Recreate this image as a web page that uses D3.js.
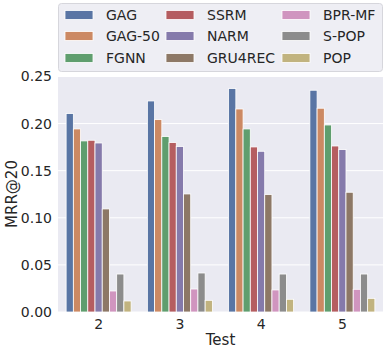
<!DOCTYPE html>
<html>
<head>
<meta charset="utf-8">
<script src="https://cdn.jsdelivr.net/npm/d3@7"></script>
<style>
  body { margin: 0; background: #fff; }
  text { font-family: "DejaVu Sans", sans-serif; fill: #262626; }
</style>
</head>
<body>
<div id="chart"></div>
<script>
const tests = ['2', '3', '4', '5'];
const methods = ['GAG', 'GAG-50', 'FGNN', 'SSRM', 'NARM', 'GRU4REC', 'BPR-MF', 'S-POP', 'POP'];
const colors = ['#5975a4', '#cc8963', '#5f9e6e', '#b55d60', '#857aab', '#8d7866', '#d095bf', '#8c8c8c', '#c1b37f'];

// MRR@20 per method, one entry per test
const GAG     = [0.2106, 0.2240, 0.2372, 0.2354];
const GAG50   = [0.1943, 0.2042, 0.2155, 0.2163];
const FGNN    = [0.1816, 0.1862, 0.1943, 0.1985];
const SSRM    = [0.1823, 0.1798, 0.1752, 0.1762];
const NARM    = [0.1794, 0.1756, 0.1706, 0.1724];
const GRU4REC = [0.1094, 0.1253, 0.1246, 0.1271];
const BPRMF   = [0.0223, 0.0244, 0.0234, 0.0241];
const SPOP    = [0.0403, 0.0414, 0.0403, 0.0403];
const POP     = [0.0117, 0.0124, 0.0135, 0.0145];
const series = [GAG, GAG50, FGNN, SSRM, NARM, GRU4REC, BPRMF, SPOP, POP];
const yTicks = [0, 0.05, 0.10, 0.15, 0.20, 0.25];

const width = 390, height = 353;
const margin = { top: 76, right: 7, bottom: 41, left: 58 };
const w = width - margin.left - margin.right;
const h = height - margin.top - margin.bottom;

const svg = d3.select('#chart').append('svg')
  .attr('width', width)
  .attr('height', height);

const g = svg.append('g')
  .attr('transform', `translate(${margin.left},${margin.top})`);

g.append('rect')
  .attr('width', w)
  .attr('height', h)
  .attr('fill', '#eaeaf2');

const x = d3.scaleBand().domain(tests).range([0, w]).padding(0);
const xInner = d3.scaleBand().domain(methods)
  .range([x.bandwidth() * 0.1, x.bandwidth() * 0.9]);
const y = d3.scaleLinear().domain([0, 0.2505]).range([h, 0]);

// grid
g.selectAll('.grid')
  .data(yTicks)
  .enter().append('line')
    .attr('x1', 0).attr('x2', w)
    .attr('y1', d => y(d)).attr('y2', d => y(d))
    .attr('stroke', '#fff').attr('stroke-width', 1);

// bars
const rows = [];
series.forEach((vals, i) => {
  vals.forEach((v, j) => rows.push({ test: tests[j], method: methods[i], value: v, color: colors[i] }));
});

g.selectAll('.bar')
  .data(rows)
  .enter().append('rect')
    .attr('x', d => x(d.test) + xInner(d.method))
    .attr('y', d => y(d.value))
    .attr('width', xInner.bandwidth())
    .attr('height', d => h - y(d.value))
    .attr('fill', d => d.color)
    .attr('stroke', '#fff')
    .attr('stroke-width', 0.8);

// axes
const axisY = d3.axisLeft(y).tickValues(yTicks).tickFormat(d3.format('.2f')).tickSize(0).tickPadding(6);
const axisX = d3.axisBottom(x).tickSize(0).tickPadding(7);

g.append('g').call(axisY)
  .call(a => a.select('.domain').remove())
  .selectAll('text').style('font-size', '14px').attr('fill', '#262626');

g.append('g')
  .attr('transform', `translate(0,${h})`)
  .call(axisX)
  .call(a => a.select('.domain').remove())
  .selectAll('text').style('font-size', '14px').attr('fill', '#262626');

svg.append('text')
  .attr('x', margin.left + w / 2)
  .attr('y', 345)
  .attr('text-anchor', 'middle')
  .style('font-size', '15px')
  .text('Test');

svg.append('text')
  .attr('transform', `translate(17,${margin.top + h / 2}) rotate(-90)`)
  .attr('text-anchor', 'middle')
  .style('font-size', '15px')
  .text('MRR@20');

// legend
const legend = svg.append('g');
legend.append('rect')
  .attr('x', 58.5).attr('y', 3.5)
  .attr('width', 324).attr('height', 68)
  .attr('rx', 3)
  .attr('fill', '#eeeef4')
  .attr('stroke', '#d6d6dc');

const colX = [65, 166, 282];
const rowY = [15, 36, 58];
methods.forEach((m, i) => {
  const col = Math.floor(i / 3), row = i % 3;
  legend.append('rect')
    .attr('x', colX[col]).attr('y', rowY[row] - 4.5)
    .attr('width', 28).attr('height', 9)
    .attr('fill', colors[i])
    .attr('stroke', '#fff')
    .attr('stroke-width', 0.8);
  legend.append('text')
    .attr('x', colX[col] + 41).attr('y', rowY[row])
    .attr('dy', '0.35em')
    .style('font-size', '14px')
    .text(m);
});
</script>
</body>
</html>
